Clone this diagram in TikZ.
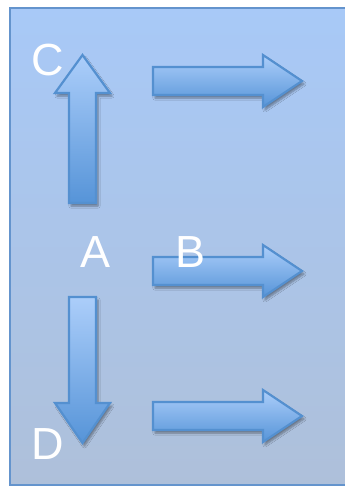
\documentclass[tikz,border=0pt]{standalone}
\usepackage{fontspec}
\setmainfont{Liberation Sans}
\usetikzlibrary{shadows.blur}
\definecolor{bgtop}{RGB}{168,201,247}
\definecolor{bgbot}{RGB}{174,192,218}
\definecolor{framec}{RGB}{100,148,205}
\definecolor{arlight}{RGB}{172,206,250}
\definecolor{ardark}{RGB}{86,148,216}
\definecolor{arline}{RGB}{84,144,208}
\begin{document}
\begin{tikzpicture}[x=1pt,y=-1pt,
  blockarrow/.style={draw=arline, line width=2.2pt, line join=miter,
    top color=arlight, bottom color=ardark,
    blur shadow={shadow xshift=2pt, shadow yshift=-3pt, shadow opacity=40, shadow blur steps=6}},
  lbl/.style={text=white, font=\fontsize{45}{45}\selectfont, inner sep=0pt, anchor=base}]
\useasboundingbox (0,0) rectangle (345,488);
\fill[white] (0,0) rectangle (345,488);
\clip (0,0) rectangle (345,488);
\path[draw=framec, line width=2pt, top color=bgtop, bottom color=bgbot] (10,8) rectangle (360,485);
% up arrow
\path[blockarrow] (69,203) -- (69,93) -- (55,93) -- (82.5,55) -- (110,93) -- (96,93) -- (96,203) -- cycle;
% down arrow
\path[blockarrow] (69,297) -- (69,403) -- (55,403) -- (82.5,443) -- (110,403) -- (96,403) -- (96,297) -- cycle;
% right arrows
\path[blockarrow] (153,67) -- (263,67) -- (263,55) -- (302,81) -- (263,107) -- (263,95) -- (153,95) -- cycle;
\path[blockarrow] (153,257) -- (263,257) -- (263,245) -- (302,271) -- (263,297) -- (263,285) -- (153,285) -- cycle;
\path[blockarrow] (153,402) -- (263,402) -- (263,390) -- (302,416) -- (263,442) -- (263,430) -- (153,430) -- cycle;
% labels
\node[lbl] (C) at (47.5,75) {C};
\node[lbl] (A) at (96,267) {A};
\node[lbl] (B) at (191,267) {B};
\node[lbl] (D) at (47.5,459) {D};
\end{tikzpicture}
\end{document}
